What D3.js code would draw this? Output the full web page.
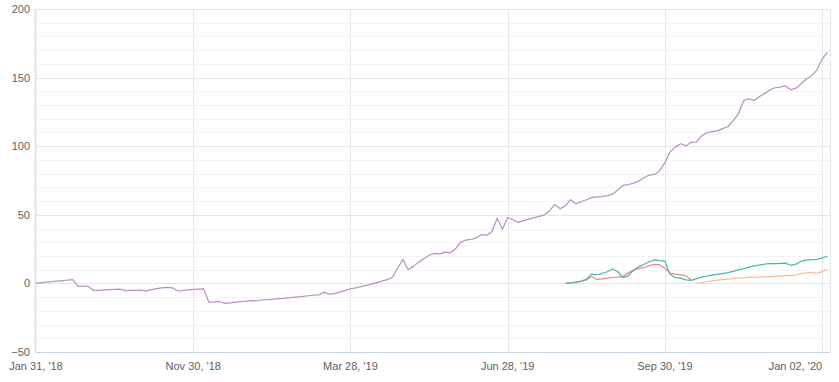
<!DOCTYPE html>
<html>
<head>
<meta charset="utf-8">
<script src="https://cdn.jsdelivr.net/npm/d3@7"></script>
<style>
  body { margin: 0; background: #fff; }
  svg text { font-family: "Liberation Sans", Arial, sans-serif; font-size: 11px; fill: #606060; }
</style>
</head>
<body>
<svg width="839" height="382"></svg>
<script>
// x tick labels sit every 30 points
var tickIndex = [0, 30, 60, 90, 120, 150];
var tickLabels = ["Jan 31, '18", "Nov 30, '18", "Mar 28, '19", "Jun 28, '19", "Sep 30, '19", "Jan 02, '20"];
var yTicks = [-50, 0, 50, 100, 150, 200];

var purple = [
  0, 0.6, 1.0, 1.3, 1.7, 2.0, 2.3, 2.7, -2, -2,
  -2.2, -5, -5, -4.8, -4.6, -4.4, -4.2, -5.2, -5.1, -5.0,
  -4.9, -5.6, -4.6, -3.8, -3.2, -2.9, -3.2, -5.4, -5.2, -4.8,
  -4.4, -4.2, -4.0, -13.8, -13.4, -13.2, -14.6, -14.2, -13.6, -13.3,
  -12.9, -12.6, -12.8, -12.1, -11.8, -11.6, -11.3, -11.0, -10.6, -10.2,
  -9.8, -9.4, -9.0, -8.6, -8.3, -6.4, -7.9, -7.5, -6.2, -5.2,
  -3.9, -3.2, -2.4, -1.5, -0.6, 0.5, 1.6, 2.8, 4.5, 11,
  17.5, 10, 12.4, 15.5, 18, 20.5, 21.8, 21.3, 22.8, 22.2,
  25, 30, 31.6, 32, 33.2, 35.5, 35, 37.8, 47.5, 39.5,
  48, 46.4, 44.5, 45.8, 46.8, 47.8, 48.8, 50, 53, 57.6,
  54.4, 56.5, 61, 58, 59.5, 61, 62.5, 63, 63.3, 64,
  65, 68, 71.4, 72, 73, 74.5, 77, 79, 79.4, 82,
  88, 96, 99.5, 101.8, 100.2, 102.8, 103, 107.5, 109.8, 110.6,
  111.2, 112.8, 114.2, 118.5, 123.5, 133, 134.6, 133.4, 136, 138.5,
  141, 142.6, 143.1, 143.9, 141.2, 142.3, 145.5, 149, 151.4, 155.5,
  163.5, 168.5
];

// the three short series start late, first index given separately
var tealStart = 101;
var teal = [
  0, 0.4, 1.0, 1.7, 3.0, 6.8, 6.3, 7.2, 8.5, 10.5,
  8.5, 4.2, 5.5, 9.5, 12.2, 13.8, 15.8, 17.2, 16.6, 16.2,
  6.5, 4.2, 3.8, 2.6, 2.2, 3.5, 4.6, 5.4, 6.0, 6.6,
  7.2, 7.8, 8.8, 9.8, 10.6, 11.8, 12.8, 13.4, 14.0, 14.4,
  14.5, 14.6, 14.8, 13.2, 14.0, 16.2, 17.0, 17.4, 17.6, 18.5,
  19.7
];
var redStart = 101;
var red = [
  0, 0.3, 0.8, 1.5, 2.5, 5.0, 2.8, 3.3, 3.9, 4.3,
  4.6, 5.2, 7.5, 9.8, 10.8, 11.6, 13.0, 13.8, 13.6, 11.0,
  7.5, 6.8, 6.2, 5.5, 2.5
];
var orangeStart = 126;
var orange = [
  0, 0.6, 1.2, 1.8, 2.3, 2.8, 3.2, 3.5, 3.8, 4.1,
  4.4, 4.6, 4.6, 4.8, 5.0, 5.2, 5.4, 5.6, 5.7, 6.0,
  7.2, 7.6, 8.1, 7.3, 8.6, 10.0
];

var svg = d3.select("svg");
var plotLeft = 36, plotRight = 830, plotTop = 9, plotBottom = 352;

var x = d3.scaleLinear().domain([0, 151.5]).range([plotLeft, plotRight]);
var y = d3.scaleLinear().domain([-50, 200]).range([plotBottom, plotTop]);

// minor grid every 10, major every 50
svg.append("g").selectAll("line").data(d3.range(-40, 200, 10).filter(function(d) { return d % 50 != 0; }))
  .enter().append("line")
  .attr("x1", plotLeft).attr("x2", plotRight)
  .attr("y1", function(d) { return Math.round(y(d)) + 0.5; })
  .attr("y2", function(d) { return Math.round(y(d)) + 0.5; })
  .attr("stroke", "#f3f3f3");

svg.append("g").selectAll("line").data(yTicks.filter(function(d) { return d != -50; }))
  .enter().append("line")
  .attr("x1", plotLeft).attr("x2", plotRight)
  .attr("y1", function(d) { return Math.round(y(d)) + 0.5; })
  .attr("y2", function(d) { return Math.round(y(d)) + 0.5; })
  .attr("stroke", "#e6e6e6");

// vertical grid at the label points
svg.append("g").selectAll("line").data(tickIndex.slice(1))
  .enter().append("line")
  .attr("x1", function(d) { return Math.round(x(d)) + 0.5; })
  .attr("x2", function(d) { return Math.round(x(d)) + 0.5; })
  .attr("y1", plotTop).attr("y2", plotBottom)
  .attr("stroke", "#e6e6e6");

svg.append("line").attr("x1", plotRight + 0.5).attr("x2", plotRight + 0.5)
  .attr("y1", plotTop).attr("y2", plotBottom).attr("stroke", "#e6e6e6");
svg.append("line").attr("x1", plotLeft - 0.5).attr("x2", plotLeft - 0.5)
  .attr("y1", plotTop).attr("y2", plotBottom).attr("stroke", "#e3e3e3").attr("stroke-width", 2);
svg.append("line").attr("x1", plotLeft).attr("x2", plotRight)
  .attr("y1", plotBottom + 0.5).attr("y2", plotBottom + 0.5).attr("stroke", "#c4d3e3");

// y labels
svg.append("g").selectAll("text").data(yTicks)
  .enter().append("text")
  .attr("x", 30)
  .attr("y", function(d) { return y(d) + 4; })
  .attr("text-anchor", "end")
  .text(function(d) { return d < 0 ? "\u2212" + Math.abs(d) : d; });

// x labels, last one pulled inside
svg.append("g").selectAll("text").data(tickIndex)
  .enter().append("text")
  .attr("x", function(d) { return x(d); })
  .attr("y", 370)
  .attr("text-anchor", function(d, i) { return i == tickIndex.length - 1 ? "end" : "middle"; })
  .text(function(d, i) { return tickLabels[i]; });

var line = d3.line()
  .x(function(d) { return x(d.i); })
  .y(function(d) { return y(d.v); });

function toPoints(arr, start) {
  return arr.map(function(v, k) { return {i: start + k, v: v}; });
}

var series = [
  {data: toPoints(red, redStart), color: "#ec8a84"},
  {data: toPoints(orange, orangeStart), color: "#fdbc95"},
  {data: toPoints(teal, tealStart), color: "#4cb5ae"},
  {data: toPoints(purple, 0), color: "#bb8fc6"}
];

svg.append("g").selectAll("path").data(series)
  .enter().append("path")
  .attr("d", function(s) { return line(s.data); })
  .attr("fill", "none")
  .attr("stroke", function(s) { return s.color; })
  .attr("stroke-width", 1.25)
  .attr("stroke-linejoin", "round");
</script>
</body>
</html>
